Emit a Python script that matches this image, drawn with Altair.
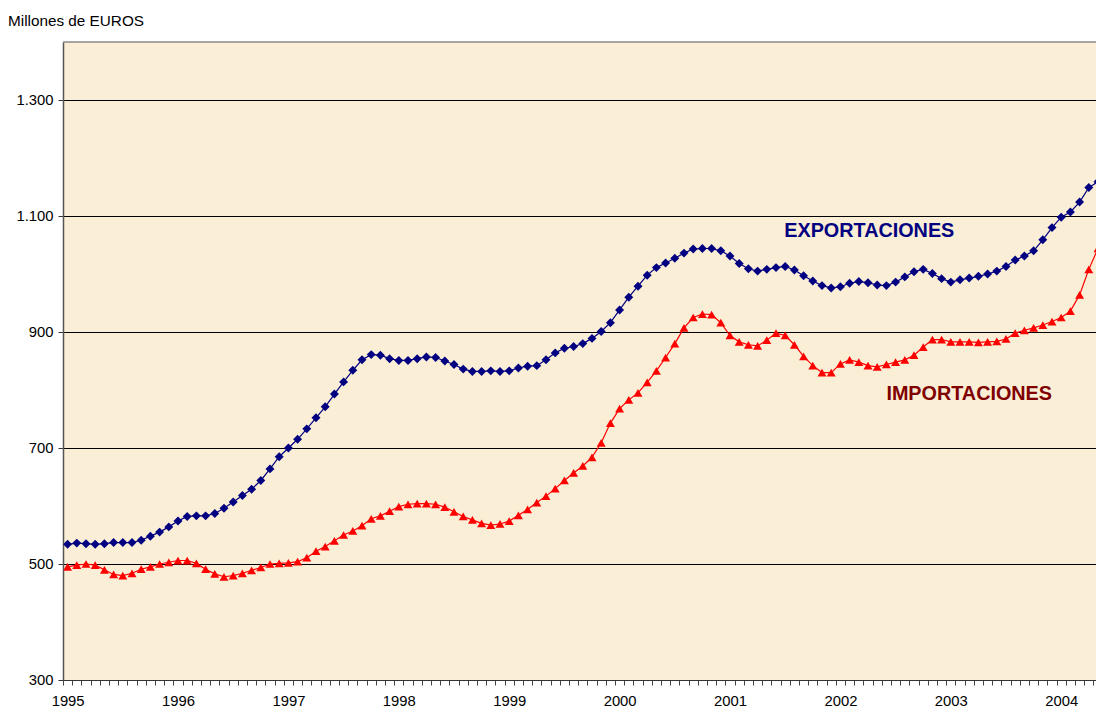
import altair as alt
import pandas as pd

# ---- data (monthly Jan 1995 - May 2004) ----
year_labels = ["1995", "1996", "1997", "1998", "1999", "2000", "2001", "2002", "2003", "2004"]

exportaciones = [
    534, 536, 535, 534, 535, 537, 537, 537, 541, 548, 555, 564,          # 1995
    574, 582, 583, 583, 587, 596, 607, 618, 629, 644, 664, 685,          # 1996
    700, 715, 733, 752, 771, 793, 814, 834, 852, 861, 860, 854,          # 1997
    851, 851, 854, 857, 856, 850, 844, 836, 832, 832, 833, 832,          # 1998
    833, 838, 841, 842, 852, 864, 872, 875, 880, 889, 901, 916,          # 1999
    938, 960, 979, 998, 1011, 1019, 1027, 1036, 1043, 1044, 1044, 1040,  # 2000
    1031, 1018, 1009, 1005, 1008, 1011, 1013, 1007, 997, 988, 980, 976,  # 2001
    978, 984, 987, 985, 981, 980, 986, 995, 1004, 1008, 1001, 992,      # 2002
    986, 990, 993, 996, 1000, 1005, 1013, 1024, 1031, 1040, 1059, 1080,  # 2003
    1098, 1107, 1124, 1149, 1159,                                        # 2004
]

importaciones = [
    495, 498, 500, 498, 490, 482, 480, 484, 491, 495, 500, 503,          # 1995
    506, 506, 501, 491, 483, 478, 480, 484, 489, 494, 500, 501,          # 1996
    502, 504, 511, 522, 530, 540, 550, 557, 566, 578, 583, 591,          # 1997
    599, 603, 604, 604, 603, 598, 590, 582, 576, 570, 567, 569,          # 1998
    574, 584, 594, 606, 617, 630, 644, 657, 669, 684, 709, 743,          # 1999
    768, 783, 795, 813, 833, 856, 880, 907, 925, 931, 930, 916,          # 2000
    894, 883, 878, 876, 886, 898, 894, 878, 858, 842, 830, 830,          # 2001
    845, 852, 848, 842, 840, 844, 848, 852, 860, 874, 887, 887,          # 2002
    883, 883, 883, 882, 883, 884, 888, 898, 903, 907, 912, 918,          # 2003
    925, 936, 964, 1008, 1044,                                           # 2004
]

series_names = ["EXPORTACIONES", "IMPORTACIONES"]
series_colors = ["#000080", "#FF0000"]
series_shapes = ["diamond", "triangle-up"]
label_colors = ["#000080", "#800000"]
label_mes = [77.9, 89.0]
label_valor = [1064, 783]

y_ticks = [300, 500, 700, 900, 1100, 1300]
y_domain = [300, 1400]

FONT = "Liberation Sans, Arial, sans-serif"
PLOT_W = 1033
PLOT_H = 638
MONTH_PX = 9.2  # pixel spacing of one month in the reference

n = len(exportaciones)
meses = list(range(n))
df = pd.DataFrame({
    "mes": meses + meses,
    "valor": exportaciones + importaciones,
    "serie": [series_names[0]] * n + [series_names[1]] * n,
})

month_ticks = [k - 0.5 for k in range(n + 1)]
year_pos = [12 * i for i in range(len(year_labels))]
year_expr = "[" + ",".join("'" + y + "'" for y in year_labels) + "][round(datum.value / 12)]"

# the reference plot is cut at the right edge of the picture
x_scale = alt.Scale(domain=[-0.5, -0.5 + PLOT_W / MONTH_PX], nice=False, zero=False)

x_ticks_axis = alt.Axis(
    orient="bottom", values=month_ticks, labels=False, tickSize=5, tickColor="#444444",
    domainColor="#333333", domainWidth=1, grid=False, title=None,
)
x_label_axis = alt.Axis(
    orient="bottom", values=year_pos, labelExpr=year_expr, ticks=False, tickSize=0, domain=False,
    grid=False, title=None, labelFlush=False, labelOverlap=False, labelBound=False,
    labelFontSize=14.8, labelFont=FONT, labelColor="black", labelPadding=13,
)

y_enc = alt.Y(
    "valor:Q",
    scale=alt.Scale(domain=y_domain, nice=False, zero=False),
    axis=alt.Axis(
        values=y_ticks, labelExpr="replace(format(datum.value, ','), ',', '.')",
        grid=True, gridColor="black", gridWidth=1, tickSize=5, tickColor="#333333",
        domainColor="#555555", domainWidth=1.5, title=None,
        labelFontSize=14.8, labelFont=FONT, labelColor="black", labelPadding=5,
    ),
)
color_enc = alt.Color("serie:N", scale=alt.Scale(domain=series_names, range=series_colors), legend=None)

lines = alt.Chart(df).mark_line(strokeWidth=1.2).encode(
    x=alt.X("mes:Q", scale=x_scale, axis=x_ticks_axis),
    y=y_enc, color=color_enc,
)
points = alt.Chart(df).mark_point(filled=True, opacity=1, size=80).encode(
    x=alt.X("mes:Q", scale=x_scale, axis=x_label_axis),
    y=y_enc, color=color_enc,
    shape=alt.Shape("serie:N", scale=alt.Scale(domain=series_names, range=series_shapes), legend=None),
)

labels_df = pd.DataFrame({"mes": label_mes, "valor": label_valor, "serie": series_names, "col": label_colors})
labels = alt.Chart(labels_df).mark_text(
    align="left", baseline="alphabetic", fontSize=19.8, fontWeight="bold", font=FONT
).encode(
    x=alt.X("mes:Q", scale=x_scale, axis=None),
    y=y_enc,
    text="serie:N",
    color=alt.Color("col:N", scale=None),
)

# grey top frame line of the plot area
frame_top = alt.Chart(pd.DataFrame({"f": [0]})).mark_rule(color="#8A8A8A", strokeWidth=1.5).encode(
    x=alt.value(0), x2=alt.value(PLOT_W), y=alt.value(0)
)

title_df = pd.DataFrame({"t": ["Millones de EUROS"]})
title = alt.Chart(title_df).mark_text(
    align="left", baseline="alphabetic", fontSize=15.3, font=FONT, color="black"
).encode(text="t:N", x=alt.value(-55), y=alt.value(-16))

chart = alt.layer(frame_top, lines, points, labels, title).resolve_axis(x="independent").properties(
    width=PLOT_W, height=PLOT_H,
    autosize=alt.AutoSizeParams(type="none"),
    padding={"left": 55, "top": 34, "right": 0, "bottom": 28},
    background="white",
).configure_view(
    fill="#FBEED6", strokeWidth=0
)

chart.save("out.html", embed_options={"renderer": "svg", "actions": False})
